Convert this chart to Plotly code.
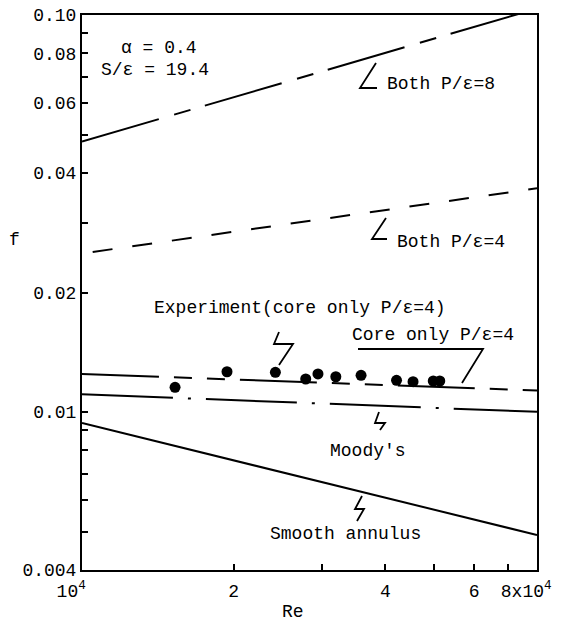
import plotly.graph_objects as go
import math

# ---- data ----
re_line = [1e4, 8e4]
f_both8 = [0.0480, 0.1038]
re_both4 = [1.05e4, 8e4]
f_both4 = [0.0253, 0.0366]
f_core4 = [0.01247, 0.01133]
f_moody = [0.01108, 0.01001]
f_smooth = [0.00938, 0.0049]

re_exp = [15300, 19400, 24200, 27800, 29400, 31900, 35800, 42100, 45400, 49800, 51300]
f_exp = [0.01154, 0.01263, 0.01259, 0.01211, 0.01247, 0.01227, 0.01237, 0.01202, 0.01192, 0.01197, 0.01197]

x_tickvals = [1e4, 2e4, 4e4, 6e4, 8e4]
x_ticktext = ["10<sup>4</sup>\u00a0\u00a0", "2", "4", "6", "8x10<sup>4</sup>\u00a0\u00a0"]
x_minor = [3e4, 5e4, 7e4]
y_tickvals = [0.004, 0.01, 0.02, 0.04, 0.06, 0.08, 0.10]
y_ticktext = ["0.004", "0.01", "0.02", "0.04", "0.06", "0.08", "0.10"]
y_minor = [0.005, 0.006, 0.007, 0.008, 0.009, 0.03, 0.05, 0.07, 0.09]

FONT = "Liberation Mono, Courier New, monospace"
FS = 18
OFF = 8  # page body margin
W, H = 564 - OFF, 633 - OFF
# plot area in screen pixels
L, R, T, B = 82, 537, 15, 570


def px(x):
    return (x - L) / (R - L)


def py(y):
    return (B - y) / (B - T)


fig = go.Figure()
lw = 2
fig.add_trace(go.Scatter(x=re_line, y=f_both8, mode="lines",
                         line=dict(color="black", width=lw, dash="80px,16px,17px,15px")))
fig.add_trace(go.Scatter(x=re_both4, y=f_both4, mode="lines",
                         line=dict(color="black", width=lw, dash="20px,20px")))
fig.add_trace(go.Scatter(x=re_line, y=f_core4, mode="lines",
                         line=dict(color="black", width=lw, dash="77px,15px,18px,15px,18px,15px")))
fig.add_trace(go.Scatter(x=re_line, y=f_moody, mode="lines",
                         line=dict(color="black", width=lw, dash="91px,15px,3px,15px")))
fig.add_trace(go.Scatter(x=re_line, y=f_smooth, mode="lines",
                         line=dict(color="black", width=lw)))
fig.add_trace(go.Scatter(x=re_exp, y=f_exp, mode="markers",
                         marker=dict(color="black", size=11)))

# leader lines (paper coords from screen pixel positions)
def path(points):
    s = "M %f %f" % (px(points[0][0]), py(points[0][1]))
    for p in points[1:]:
        s += " L %f %f" % (px(p[0]), py(p[1]))
    return s

leaders = [
    [(376, 63), (360, 88), (377, 88)],
    [(386, 218), (372, 239), (387, 239)],
    [(279, 332), (274, 344), (293, 344), (279, 365)],
    [(358, 349), (483, 349), (462, 383)],
    [(379, 412), (375, 423), (385, 423), (380, 430)],
    [(362, 496), (355, 509), (364, 509), (357, 521)],
]
shapes = [dict(type="path", xref="paper", yref="paper", path=path(p),
               line=dict(color="black", width=1.8)) for p in leaders]

def ann(text, x, y, xanchor="left", size=FS):
    return dict(text=text, x=px(x), y=py(y), xref="paper", yref="paper",
                xanchor=xanchor, yanchor="middle", showarrow=False,
                font=dict(family=FONT, size=size, color="black"))

annotations = [
    ann("α = 0.4", 119, 48),
    ann("S/ε = 19.4", 99, 70),
    ann("Both P/ε=8", 385, 84),
    ann("Both P/ε=4", 395, 242),
    ann("Experiment(core only P/ε=4)", 152, 308),
    ann("Core only P/ε=4", 350, 335),
    ann("Moody's", 328, 451),
    ann("Smooth annulus", 268, 534),
    ann("f", 14, 240, xanchor="center"),
    ann("Re", 293, 612, xanchor="center"),
]

axis_common = dict(type="log", showline=True, linecolor="black", linewidth=2,
                   mirror=True, ticks="inside", ticklen=6, tickwidth=1.5,
                   tickcolor="black", showgrid=False, zeroline=False,
                   automargin=False, ticklabeloverflow="allow",
                   tickfont=dict(family=FONT, size=FS, color="black"))

fig.update_layout(
    width=W, height=H,
    margin=dict(l=L - OFF, r=564 - R, t=T - OFF, b=633 - B, autoexpand=False),
    paper_bgcolor="white", plot_bgcolor="white",
    showlegend=False,
    shapes=shapes, annotations=annotations,
    xaxis=dict(range=[4, math.log10(8e4)], tickmode="array", tickvals=x_tickvals,
               ticktext=x_ticktext, ticklabelstandoff=3,
               minor=dict(tickmode="array", tickvals=x_minor, ticks="inside",
                          ticklen=6, tickwidth=1.5, tickcolor="black", showgrid=False),
               **axis_common),
    yaxis=dict(range=[math.log10(0.004), -1], tickmode="array", tickvals=y_tickvals,
               ticktext=y_ticktext,
               minor=dict(tickmode="array", tickvals=y_minor, ticks="inside",
                          ticklen=6, tickwidth=1.5, tickcolor="black", showgrid=False),
               **axis_common),
)

fig.write_html("out.html")
